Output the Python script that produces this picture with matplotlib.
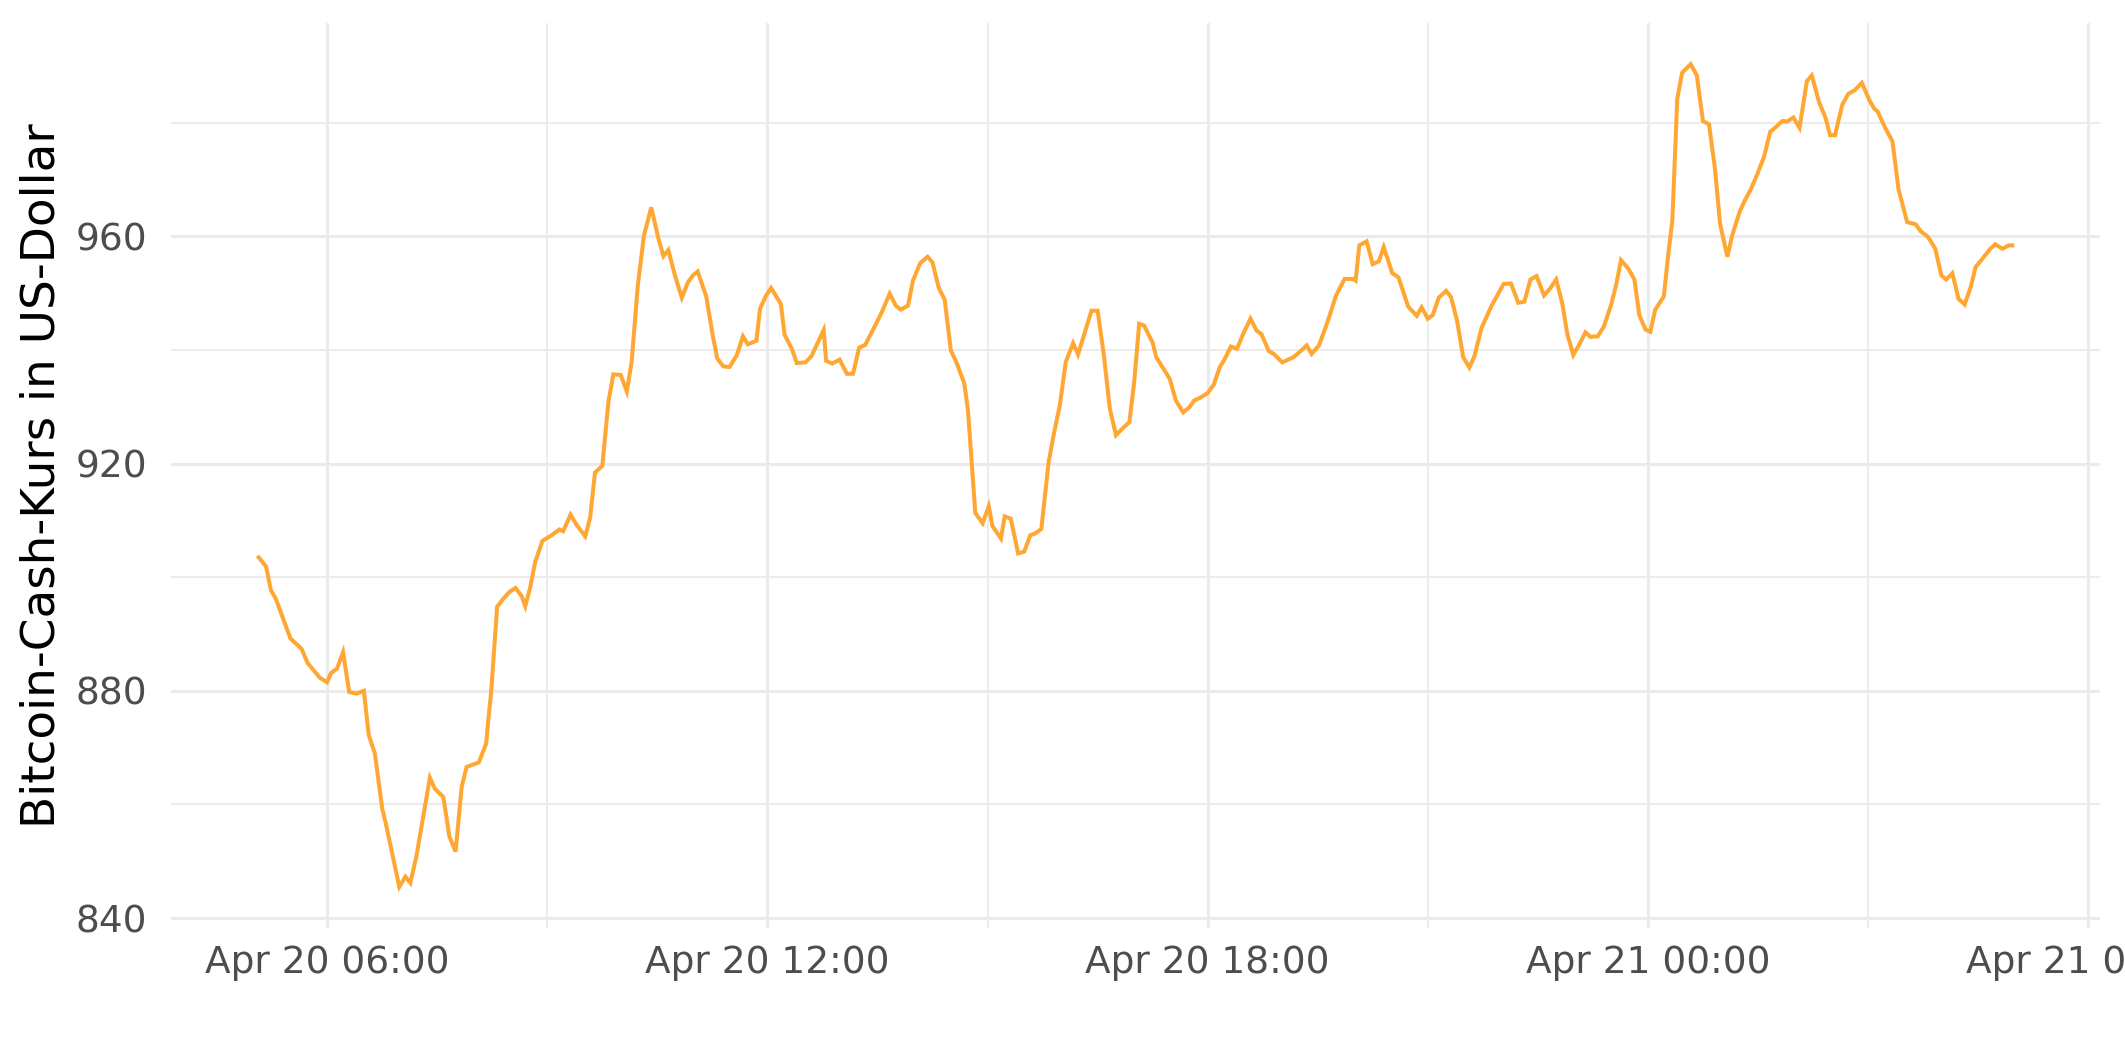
import matplotlib
matplotlib.use("Agg")
import matplotlib.pyplot as plt
import matplotlib.dates as mdates
import pandas as pd

# Timestamps (month-day hour:minute) and Bitcoin Cash price in USD
times = [
    "04-20 05:04", "04-20 05:10", "04-20 05:14", "04-20 05:18", "04-20 05:30", "04-20 05:39",
    "04-20 05:44", "04-20 05:54", "04-20 06:00", "04-20 06:03", "04-20 06:08", "04-20 06:13",
    "04-20 06:18", "04-20 06:24", "04-20 06:30", "04-20 06:34", "04-20 06:39", "04-20 06:45",
    "04-20 06:48", "04-20 06:59", "04-20 07:04", "04-20 07:08", "04-20 07:13", "04-20 07:24",
    "04-20 07:28", "04-20 07:35", "04-20 07:40", "04-20 07:45", "04-20 07:50", "04-20 07:54",
    "04-20 08:04", "04-20 08:10", "04-20 08:12", "04-20 08:14", "04-20 08:19", "04-20 08:24",
    "04-20 08:29", "04-20 08:34", "04-20 08:39", "04-20 08:42", "04-20 08:46", "04-20 08:50",
    "04-20 08:56", "04-20 09:03", "04-20 09:10", "04-20 09:13", "04-20 09:19", "04-20 09:24",
    "04-20 09:31", "04-20 09:35", "04-20 09:39", "04-20 09:45", "04-20 09:50", "04-20 09:54",
    "04-20 10:00", "04-20 10:05", "04-20 10:09", "04-20 10:14", "04-20 10:19", "04-20 10:25",
    "04-20 10:31", "04-20 10:35", "04-20 10:39", "04-20 10:44", "04-20 10:50", "04-20 10:55",
    "04-20 10:59", "04-20 11:03", "04-20 11:10", "04-20 11:15", "04-20 11:19", "04-20 11:24",
    "04-20 11:29", "04-20 11:35", "04-20 11:40", "04-20 11:44", "04-20 11:51", "04-20 11:54",
    "04-20 11:59", "04-20 12:03", "04-20 12:11", "04-20 12:14", "04-20 12:20", "04-20 12:24",
    "04-20 12:31", "04-20 12:36", "04-20 12:41", "04-20 12:46", "04-20 12:48", "04-20 12:53",
    "04-20 12:59", "04-20 13:05", "04-20 13:10", "04-20 13:15", "04-20 13:20", "04-20 13:26",
    "04-20 13:33", "04-20 13:40", "04-20 13:45", "04-20 13:49", "04-20 13:55", "04-20 13:59",
    "04-20 14:05", "04-20 14:11", "04-20 14:15", "04-20 14:20", "04-20 14:25", "04-20 14:30",
    "04-20 14:35", "04-20 14:41", "04-20 14:44", "04-20 14:50", "04-20 14:56", "04-20 15:01",
    "04-20 15:04", "04-20 15:11", "04-20 15:14", "04-20 15:19", "04-20 15:25", "04-20 15:30",
    "04-20 15:35", "04-20 15:39", "04-20 15:44", "04-20 15:50", "04-20 15:54", "04-20 15:59",
    "04-20 16:04", "04-20 16:10", "04-20 16:14", "04-20 16:20", "04-20 16:25", "04-20 16:30",
    "04-20 16:35", "04-20 16:40", "04-20 16:45", "04-20 16:51", "04-20 16:56", "04-20 17:00",
    "04-20 17:04", "04-20 17:08", "04-20 17:15", "04-20 17:18", "04-20 17:23", "04-20 17:29",
    "04-20 17:34", "04-20 17:40", "04-20 17:45", "04-20 17:49", "04-20 17:54", "04-20 18:00",
    "04-20 18:05", "04-20 18:10", "04-20 18:14", "04-20 18:19", "04-20 18:24", "04-20 18:29",
    "04-20 18:35", "04-20 18:40", "04-20 18:44", "04-20 18:50", "04-20 18:54", "04-20 19:01",
    "04-20 19:10", "04-20 19:15", "04-20 19:21", "04-20 19:25", "04-20 19:31", "04-20 19:37",
    "04-20 19:41", "04-20 19:45", "04-20 19:52", "04-20 19:59", "04-20 20:01", "04-20 20:04",
    "04-20 20:10", "04-20 20:15", "04-20 20:20", "04-20 20:24", "04-20 20:31", "04-20 20:36",
    "04-20 20:44", "04-20 20:51", "04-20 20:55", "04-20 21:00", "04-20 21:04", "04-20 21:09",
    "04-20 21:15", "04-20 21:19", "04-20 21:24", "04-20 21:29", "04-20 21:34", "04-20 21:38",
    "04-20 21:44", "04-20 21:52", "04-20 22:02", "04-20 22:08", "04-20 22:14", "04-20 22:19",
    "04-20 22:24", "04-20 22:29", "04-20 22:35", "04-20 22:40", "04-20 22:45", "04-20 22:50",
    "04-20 22:54", "04-20 22:59", "04-20 23:04", "04-20 23:09", "04-20 23:13", "04-20 23:19",
    "04-20 23:24", "04-20 23:30", "04-20 23:34", "04-20 23:38", "04-20 23:44", "04-20 23:49",
    "04-20 23:53", "04-20 23:58", "04-21 00:02", "04-21 00:06", "04-21 00:13", "04-21 00:17",
    "04-21 00:20", "04-21 00:24", "04-21 00:28", "04-21 00:35", "04-21 00:40", "04-21 00:45",
    "04-21 00:50", "04-21 00:55", "04-21 00:59", "04-21 01:05", "04-21 01:09", "04-21 01:15",
    "04-21 01:19", "04-21 01:24", "04-21 01:29", "04-21 01:35", "04-21 01:40", "04-21 01:44",
    "04-21 01:50", "04-21 01:54", "04-21 01:59", "04-21 02:04", "04-21 02:10", "04-21 02:14",
    "04-21 02:20", "04-21 02:25", "04-21 02:29", "04-21 02:33", "04-21 02:39", "04-21 02:44",
    "04-21 02:49", "04-21 02:55", "04-21 03:01", "04-21 03:05", "04-21 03:08", "04-21 03:14",
    "04-21 03:20", "04-21 03:25", "04-21 03:32", "04-21 03:39", "04-21 03:43", "04-21 03:49",
    "04-21 03:55", "04-21 04:00", "04-21 04:04", "04-21 04:09", "04-21 04:14", "04-21 04:19",
    "04-21 04:24", "04-21 04:28", "04-21 04:33", "04-21 04:40", "04-21 04:44", "04-21 04:50",
    "04-21 04:55", "04-21 04:58",
]

prices = [
    903.5, 901.9, 897.7, 896.2, 889.2, 887.4,
    884.9, 882.3, 881.5, 883.1, 883.9, 886.8,
    879.8, 879.5, 880.0, 872.2, 869.0, 859.3,
    856.6, 845.5, 847.3, 846.2, 850.9, 864.7,
    862.8, 861.3, 854.3, 851.7, 863.1, 866.6,
    867.4, 870.7, 875.4, 879.5, 894.8, 896.2,
    897.4, 898.1, 896.7, 894.9, 898.2, 902.6,
    906.4, 907.3, 908.4, 908.1, 911.0, 909.2,
    907.2, 910.4, 918.4, 919.6, 930.9, 935.7,
    935.6, 932.7, 937.9, 951.3, 960.1, 965.1,
    959.5, 956.5, 957.6, 953.4, 949.2, 951.9,
    953.1, 953.8, 949.4, 942.9, 938.5, 937.1,
    937.0, 939.1, 942.4, 941.0, 941.6, 947.3,
    949.6, 950.9, 948.1, 942.7, 940.2, 937.7,
    937.8, 938.9, 941.2, 943.5, 938.1, 937.6,
    938.3, 935.8, 935.8, 940.4, 940.9, 943.4,
    946.4, 949.9, 947.8, 947.1, 947.8, 952.2,
    955.3, 956.4, 955.4, 951.0, 948.8, 939.9,
    937.6, 934.1, 929.4, 911.3, 909.5, 912.5,
    909.0, 906.8, 910.7, 910.3, 904.2, 904.5,
    907.4, 907.7, 908.5, 920.3, 925.0, 930.1,
    937.9, 941.2, 939.2, 943.4, 946.9, 946.9,
    939.3, 929.7, 925.0, 926.3, 927.3, 934.5,
    944.6, 944.3, 941.3, 938.7, 937.0, 934.9,
    931.1, 929.0, 929.9, 931.1, 931.6, 932.4,
    933.9, 937.0, 938.4, 940.6, 940.2, 942.8,
    945.5, 943.4, 942.8, 939.8, 939.3, 937.8,
    938.7, 939.6, 940.8, 939.3, 940.8, 944.3,
    946.9, 949.6, 952.5, 952.5, 952.2, 958.4,
    959.1, 955.1, 955.6, 958.1, 953.5, 952.8,
    947.6, 946.0, 947.5, 945.5, 946.1, 949.2,
    950.4, 949.3, 945.1, 938.7, 936.9, 938.8,
    943.9, 947.7, 951.6, 951.7, 948.3, 948.5,
    952.4, 953.0, 949.6, 950.8, 952.4, 948.2,
    942.9, 939.1, 941.0, 943.1, 942.3, 942.4,
    944.1, 948.0, 951.4, 955.8, 954.3, 952.4,
    946.1, 943.6, 943.2, 947.1, 949.4, 957.5,
    962.8, 984.2, 988.8, 990.3, 988.3, 980.3,
    979.7, 971.6, 962.2, 956.4, 960.2, 964.3,
    966.2, 968.2, 970.7, 974.0, 978.4, 979.1,
    980.3, 980.2, 980.9, 979.1, 987.3, 988.3,
    983.6, 981.0, 977.8, 977.8, 983.2, 985.1,
    985.7, 987.0, 984.0, 982.5, 981.9, 979.1,
    976.7, 968.2, 962.5, 962.1, 960.9, 959.9,
    957.8, 953.1, 952.4, 953.5, 949.0, 948.0,
    951.1, 954.6, 955.9, 957.8, 958.6, 957.8,
    958.4, 958.4,
]

y_major = [840, 880, 920, 960]
y_minor = [860, 900, 940, 980]
y_label = "Bitcoin-Cash-Kurs in US-Dollar"

df = pd.DataFrame({"time": pd.to_datetime(["2018-" + t for t in times], format="%Y-%m-%d %H:%M"),
                   "price": prices})

W, H, DPI = 2125, 1062, 200
fig = plt.figure(figsize=(W / DPI, H / DPI), dpi=DPI)
ax = fig.add_axes([171 / W, 1 - 928 / H, (2100 - 171) / W, (928 - 23) / H])

ax.plot(df["time"], df["price"], color="#FFA733", linewidth=1.45, solid_joinstyle="miter", zorder=3)
ax.margins(x=0.05, y=0.05)

ax.set_yticks(y_major)
ax.set_yticks(y_minor, minor=True)
ax.xaxis.set_major_locator(mdates.HourLocator(byhour=[0, 6, 12, 18]))
ax.xaxis.set_minor_locator(mdates.HourLocator(byhour=[3, 9, 15, 21]))
ax.xaxis.set_major_formatter(mdates.DateFormatter("%b %d %H:%M"))

grid_col = "#EBEBEB"
ax.grid(which="major", color=grid_col, linewidth=1.1, zorder=0)
ax.grid(which="minor", color=grid_col, linewidth=0.65, zorder=0)
ax.set_axisbelow(True)

for s in ax.spines.values():
    s.set_visible(False)

ax.tick_params(which="both", length=0)
ax.tick_params(axis="x", which="major", labelsize=13.5, labelcolor="#4D4D4D", pad=6)
ax.tick_params(axis="y", which="major", labelsize=13.5, labelcolor="#4D4D4D", pad=8.5)

ax.set_ylabel(y_label, fontsize=16.9, color="black", labelpad=4)

fig.savefig("out.png", dpi=DPI, facecolor="white")
